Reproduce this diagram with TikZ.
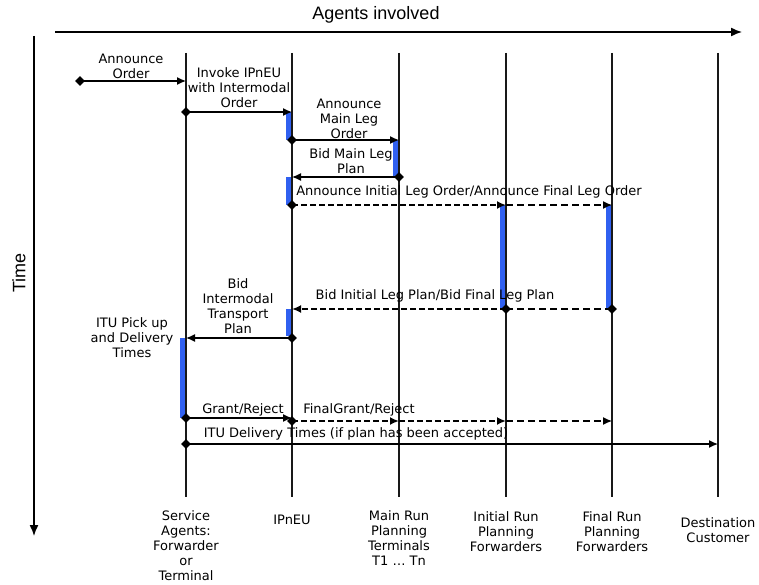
\documentclass[tikz,border=0pt]{standalone}
\usepackage{fontspec}
\setmainfont{DejaVu Sans}
\newfontfamily\bigfont{Liberation Sans}
\usetikzlibrary{arrows.meta,shapes.geometric}
\definecolor{barblue}{RGB}{48,96,240}
\definecolor{lineblack}{RGB}{25,25,25}
\begin{document}
\begin{tikzpicture}[x=1pt,y=-1pt,
  lbl/.style={font=\fontsize{13}{15}\selectfont, align=center, inner sep=0pt},
  biglbl/.style={font=\bigfont\fontsize{18}{20}\selectfont, inner sep=0pt},
  life/.style={draw=lineblack, line width=1.2pt},
  axis/.style={draw=black, line width=1.4pt, -{Latex[length=11pt,width=9pt]}},
  msg/.style={draw=black, line width=1.3pt, -{Latex[length=9pt,width=8pt]}},
  thickdash/.style={draw=black, line width=2pt, dash pattern=on 6pt off 3pt, -{Latex[length=9pt,width=8pt]}},
  thindash/.style={draw=black, line width=1.2pt, dash pattern=on 7pt off 4pt, -{Latex[length=9pt,width=8pt]}},
  plain/.style={-},
  dmd/.style={diamond, fill=black, inner sep=0pt, minimum width=10pt, minimum height=10pt},
  actbar/.style={fill=barblue}
]
\useasboundingbox (0,0) rectangle (759,585);

% axes
\coordinate (ag0) at (55,32);
\coordinate (ag1) at (742,32);
\draw[axis] (ag0) -- (ag1);
\node[biglbl] (agents) at (376,15) {Agents involved};
\coordinate (tm0) at (34,36);
\coordinate (tm1) at (34,536);
\draw[axis] (tm0) -- (tm1);
\node[biglbl, rotate=90] (time) at (19,273) {Time};

% activation bars
\path[actbar] (286,112) rectangle (292,140);
\path[actbar] (393,140) rectangle (399,177);
\path[actbar] (286,177) rectangle (292,205);
\path[actbar] (500,205) rectangle (506,310);
\path[actbar] (606,205) rectangle (612,310);
\path[actbar] (286,309) rectangle (292,336);
\path[actbar] (180,338) rectangle (186,418);

% lifelines
\foreach \n/\x in {S/186,I/292,M/399,N/506,F/612,D/718}{
  \coordinate (\n top) at (\x,53);
  \coordinate (\n bot) at (\x,497);
  \draw[life] (\n top) -- (\n bot);
}

% message end points
\coordinate (A0) at (80,81);   \coordinate (A1) at (186,81);
\coordinate (B0) at (186,112); \coordinate (B1) at (292,112);
\coordinate (C0) at (292,140); \coordinate (C1) at (399,140);
\coordinate (D0) at (399,177); \coordinate (D1) at (292,177);
\coordinate (E0) at (292,205); \coordinate (E1) at (506,205); \coordinate (E2) at (612,205);
\coordinate (G0) at (612,309); \coordinate (G1) at (506,309); \coordinate (G2) at (292,309);
\coordinate (H0) at (292,338); \coordinate (H1) at (186,338);
\coordinate (J0) at (186,418); \coordinate (J1) at (292,418);
\coordinate (K0) at (292,421); \coordinate (K1) at (399,421); \coordinate (K2) at (506,421); \coordinate (K3) at (612,421);
\coordinate (L0) at (186,444); \coordinate (L1) at (718,444);

% messages
\draw[msg] (A0) -- (A1);
\draw[msg] (B0) -- (B1);
\draw[msg] (C0) -- (C1);
\draw[msg] (D0) -- (D1);
\draw[thickdash] (E0) -- (E1);
\draw[thindash] (E1) -- (E2);
\draw[thindash, plain] (G0) -- (G1);
\draw[thickdash] (G1) -- (G2);
\draw[msg] (H0) -- (H1);
\draw[msg] (J0) -- (J1);
\draw[thickdash] (K0) -- (K1);
\draw[thickdash] (K1) -- (K2);
\draw[thindash] (K2) -- (K3);
\draw[msg] (L0) -- (L1);

% diamonds
\foreach \p in {A0,B0,C0,D0,E0,G0,G1,H0,J0,K0,L0}{
  \node[dmd] at (\p) {};
}

% message labels
\node[lbl] (lA) at (131,66) {Announce\\Order};
\node[lbl] (lB) at (239,88) {Invoke IPnEU\\with Intermodal\\Order};
\node[lbl] (lC) at (349,119) {Announce\\Main Leg\\Order};
\node[lbl] (lD) at (351,161) {Bid Main Leg\\Plan};
\node[lbl] (lE) at (469,192) {Announce Initial Leg Order/Announce Final Leg Order};
\node[lbl] (lG) at (435,296) {Bid Initial Leg Plan/Bid Final Leg Plan};
\node[lbl] (lH) at (238,306) {Bid\\Intermodal\\Transport\\Plan};
\node[lbl] (lP) at (132,338) {ITU Pick up\\and Delivery\\Times};
\node[lbl] (lJ) at (243,410) {Grant/Reject};
\node[lbl] (lK) at (359,410) {FinalGrant/Reject};
\node[lbl] (lL) at (356,434) {ITU Delivery Times (if plan has been accepted)};

% agent labels
\node[lbl] (nS) at (186,546) {Service\\Agents:\\Forwarder\\or\\Terminal};
\node[lbl] (nI) at (292,520) {IPnEU};
\node[lbl] (nM) at (399,538) {Main Run\\Planning\\Terminals\\T1 \dots\ Tn};
\node[lbl] (nN) at (506,532) {Initial Run\\Planning\\Forwarders};
\node[lbl] (nF) at (612,532) {Final Run\\Planning\\Forwarders};
\node[lbl] (nD) at (718,530) {Destination\\Customer};
\end{tikzpicture}
\end{document}
